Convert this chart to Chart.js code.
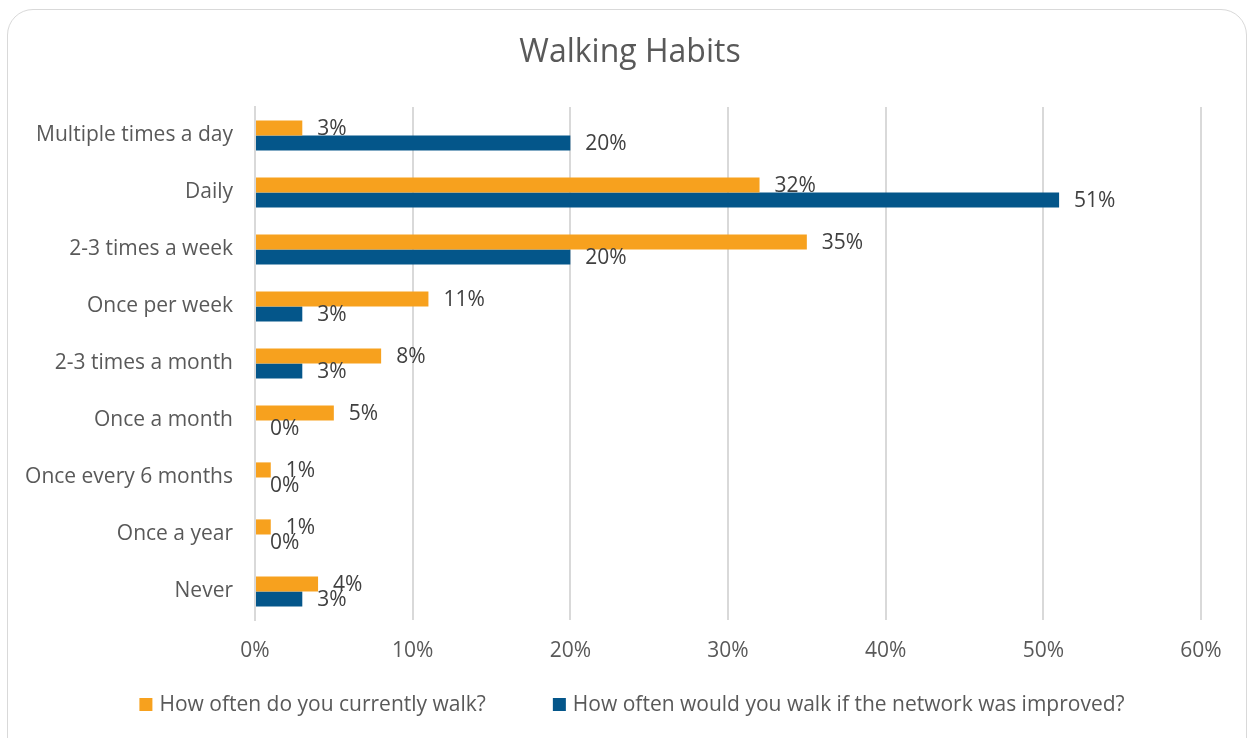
<!DOCTYPE html>
<html>
<head>
<meta charset="utf-8">
<script src="https://cdn.jsdelivr.net/npm/chart.js@4.4.1/dist/chart.umd.min.js"></script>
<style>
  html, body { margin: 0; padding: 0; background: #fff; overflow: hidden; }
  #frame {
    position: absolute; left: 7px; top: 9px; width: 1240px; height: 760px;
    border: 1.5px solid #d9d9d9; border-radius: 26px; box-sizing: border-box;
  }
  #wrap { position: absolute; left: 0; top: 0; width: 1250px; height: 738px; }
</style>
</head>
<body>
<div id="frame"></div>
<div id="wrap"><canvas id="chart" width="1250" height="738"></canvas></div>
<script>
// ── Data ─────────────────────────────────────────────
const chartTitle   = 'Walking Habits';
const categories = [
  'Multiple times a day', 'Daily', '2-3 times a week', 'Once per week',
  '2-3 times a month', 'Once a month', 'Once every 6 months', 'Once a year', 'Never'
];
const currentWalk  = [3, 32, 35, 11, 8, 5, 1, 1, 4];
const improvedWalk = [20, 51, 20, 3, 3, 0, 0, 0, 3];
const seriesNames  = ['How often do you currently walk?', 'How often would you walk if the network was improved?'];
const xTicks       = [0, 10, 20, 30, 40, 50, 60];

const FONT = '"Open Sans", sans-serif';
const ORANGE = '#F7A11E';
const BLUE = '#04568A';

// draw value labels just past the end of each bar
const valueLabels = {
  id: 'valueLabels',
  afterDatasetsDraw(chart) {
    const ctx = chart.ctx;
    ctx.save();
    ctx.font = '21px ' + FONT;
    ctx.fillStyle = '#404040';
    ctx.textAlign = 'left';
    ctx.textBaseline = 'middle';
    chart.data.datasets.forEach((ds, i) => {
      chart.getDatasetMeta(i).data.forEach((bar, j) => {
        ctx.fillText(ds.data[j] + '%', bar.x + 15, bar.y + 1);
      });
    });
    ctx.restore();
  }
};

// title + legend drawn by hand: title sits centred on the whole frame,
// legend needs a wide gap between its two entries
const frameText = {
  id: 'frameText',
  afterDraw(chart) {
    const ctx = chart.ctx;
    ctx.save();
    ctx.fillStyle = '#595959';
    ctx.textBaseline = 'middle';
    ctx.textAlign = 'center';
    ctx.font = '32px ' + FONT;
    ctx.fillText(chartTitle, chart.width / 2 + 5, 53);

    ctx.textAlign = 'left';
    ctx.font = '21px ' + FONT;
    const box = 13, boxGap = 7, itemGap = 67, y = 705;
    const items = chart.data.datasets.map(ds => ({
      text: ds.label, color: ds.backgroundColor, w: ctx.measureText(ds.label).width,
    }));
    const total = items.reduce((s, it) => s + box + boxGap + it.w, 0) + itemGap * (items.length - 1);
    let x = chart.width / 2 + 7 - total / 2;
    for (const it of items) {
      ctx.fillStyle = it.color;
      ctx.fillRect(x, y - 7, box, box);
      ctx.fillStyle = '#595959';
      ctx.fillText(it.text, x + box + boxGap, y);
      x += box + boxGap + it.w + itemGap;
    }
    ctx.restore();
  }
};

new Chart(document.getElementById('chart').getContext('2d'), {
  type: 'bar',
  data: {
    labels: categories,
    datasets: [
      { label: seriesNames[0], data: currentWalk,  backgroundColor: ORANGE },
      { label: seriesNames[1], data: improvedWalk, backgroundColor: BLUE },
    ],
  },
  options: {
    indexAxis: 'y',
    responsive: false,
    animation: false,
    categoryPercentage: 0.53,
    barPercentage: 1.0,
    layout: { padding: { left: 20, right: 49, top: 107, bottom: 66 } },
    plugins: {
      title: { display: false },
      legend: { display: false },
      tooltip: { enabled: false },
    },
    scales: {
      x: {
        min: 0, max: 60,
        afterBuildTicks: axis => { axis.ticks = xTicks.map(v => ({ value: v })); },
        afterFit: axis => { axis.height = 52; },
        grid: { color: '#d9d9d9', lineWidth: 2, drawTicks: false },
        border: { display: false },
        ticks: {
          color: '#595959', padding: 18,
          font: { family: FONT, size: 21 },
          callback: v => v + '%',
        },
      },
      y: {
        afterFit: axis => { axis.width = 235; },
        grid: { display: false, drawTicks: false },
        border: { display: true, color: '#d9d9d9', width: 2 },
        ticks: { color: '#595959', padding: 22, font: { family: FONT, size: 21 } },
      },
    },
  },
  plugins: [valueLabels, frameText],
});
</script>
</body>
</html>
